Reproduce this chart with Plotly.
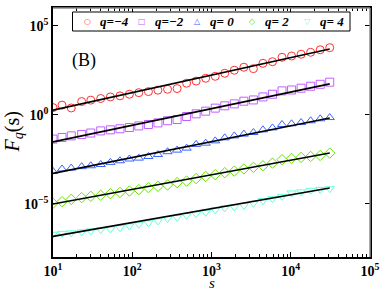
import numpy as np
import plotly.graph_objects as go

# scale s (log-spaced window sizes)
s = [10, 13, 17, 23, 30, 40, 53, 70, 92, 121, 160, 211, 279, 368, 485, 640, 845,
     1114, 1470, 1940, 2560, 3378, 4457, 5881, 7760, 10240, 13512, 17829, 23525, 31042]

# log10 of F_q(s)
log_F_qm4 = [0.40, 0.54, 0.38, 0.74, 0.82, 0.91, 1.00, 1.06, 1.15, 1.24, 1.30, 1.38, 1.43, 1.47, 1.77,
             1.89, 2.05, 2.16, 2.33, 2.50, 2.67, 2.59, 2.89, 2.98, 3.23, 3.30, 3.40, 3.51, 3.65, 3.77]
log_F_qm2 = [-1.37, -1.28, -1.19, -1.11, -1.03, -0.91, -0.85, -0.79, -0.72, -0.63, -0.55, -0.46, -0.34, -0.27, -0.10,
             0.05, 0.20, 0.37, 0.50, 0.61, 0.76, 0.83, 1.00, 1.15, 1.34, 1.39, 1.49, 1.60, 1.71, 1.83]
log_F_q0 = [-3.19, -3.05, -3.00, -2.92, -2.87, -2.80, -2.68, -2.59, -2.49, -2.44, -2.35, -2.24, -2.08, -1.99, -1.88,
            -1.67, -1.60, -1.47, -1.30, -1.19, -1.09, -1.00, -0.85, -0.74, -0.55, -0.51, -0.44, -0.34, -0.23, -0.16]
log_F_q2 = [-4.98, -4.89, -4.76, -4.66, -4.59, -4.53, -4.44, -4.37, -4.29, -4.21, -4.10, -4.03, -3.95, -3.82, -3.73,
            -3.59, -3.47, -3.37, -3.26, -3.17, -3.05, -2.96, -2.87, -2.72, -2.53, -2.46, -2.40, -2.35, -2.29, -2.16]
log_F_q4 = [-6.72, -6.67, -6.64, -6.59, -6.53, -6.47, -6.42, -6.35, -6.25, -6.16, -6.08, -5.97, -5.84, -5.77, -5.66,
            -5.57, -5.49, -5.35, -5.24, -5.19, -5.10, -4.98, -4.83, -4.72, -4.59, -4.40, -4.34, -4.25, -4.20, -4.16]

# power-law fits: slope and log10 F at s = 10
fit_slope = [0.985, 0.935, 0.891, 0.82, 0.78]
fit_log_at_10 = [0.255, -1.53, -3.30, -5.02, -6.84]

series_names = ["q=−4", "q=−2", "q= 0", "q= 2", "q= 4"]
series_logs = [log_F_qm4, log_F_qm2, log_F_q0, log_F_q2, log_F_q4]
symbols = ["circle-open", "square-open", "triangle-up-open", "diamond-open", "triangle-down-open"]
legend_glyphs = ["○", "□", "△", "◇", "▽"]
colors = ["#ff3030", "#c060ff", "#3c64ff", "#66e600", "#66ffd8"]

# tick labels
x_tickvals = [10, 100, 1000, 10000, 100000]
x_ticktext = ["<b>10<sup>1</sup></b>", "<b>10<sup>2</sup></b>", "<b>10<sup>3</sup></b>",
              "<b>10<sup>4</sup></b>", "<b>10<sup>5</sup></b>"]
y_tickvals = [1e-5, 1, 1e5]
y_ticktext = ["<b>10<sup>−5</sup></b>", "<b>10<sup>0</sup></b>", "<b>10<sup>5</sup></b>"]

FONT = "Liberation Serif"
W, H = 382, 292
ML, MR, MT, MB = 53, 12, 8, 35
PW, PH = W - ML - MR, H - MT - MB


def px_x(px):
    return (px - ML) / PW


def px_y(py):
    return (H - MB - py) / PH


fig = go.Figure()
for name, logs, sym, col in zip(series_names, series_logs, symbols, colors):
    fig.add_trace(go.Scatter(
        x=s, y=10 ** np.array(logs), mode="markers", name=name, showlegend=False,
        marker=dict(symbol=sym, size=8, color=col, line=dict(width=1, color=col)),
    ))

s_line = np.array([s[0], s[-1]], dtype=float)
for h, b in zip(fit_slope, fit_log_at_10):
    fig.add_trace(go.Scatter(
        x=s_line, y=10 ** (b + h * (np.log10(s_line) - 1)), mode="lines",
        line=dict(color="black", width=1.6), showlegend=False, hoverinfo="skip",
    ))

annotations = [
    dict(text="(B)", x=px_x(70), y=px_y(60), xref="paper", yref="paper",
         xanchor="left", yanchor="middle", showarrow=False,
         font=dict(family=FONT, size=18, color="black")),
    dict(text="<i>s</i>", x=0.5, y=px_y(283), xref="paper", yref="paper",
         xanchor="center", yanchor="middle", showarrow=False, borderpad=0,
         font=dict(family=FONT, size=15, color="black")),
    dict(text="<i>F<sub>q</sub></i>(s)", x=px_x(13), y=0.5, xref="paper", yref="paper",
         xanchor="center", yanchor="middle", showarrow=False, textangle=-90,
         font=dict(family=FONT, size=20, color="black")),
]

# legend drawn as a framed row of glyphs + labels
leg_left, leg_right, leg_top, leg_bottom = 72.5, 350, 12, 31
leg_first, leg_step, leg_mid = 87, 55, 21.5
for i, (name, glyph, col) in enumerate(zip(series_names, legend_glyphs, colors)):
    mx = leg_first + i * leg_step
    annotations.append(dict(
        text=glyph, x=px_x(mx), y=px_y(leg_mid), xref="paper", yref="paper",
        xanchor="center", yanchor="middle", showarrow=False,
        font=dict(family="DejaVu Sans", size=8, color=col)))
    annotations.append(dict(
        text="<b><i>" + name + "</i></b>", x=px_x(mx + 11), y=px_y(leg_mid), xref="paper", yref="paper",
        xanchor="left", yanchor="middle", showarrow=False,
        font=dict(family=FONT, size=13, color="black")))

fig.update_layout(
    width=W, height=H,
    margin=dict(l=ML, r=MR, t=MT, b=MB, autoexpand=False),
    paper_bgcolor="white", plot_bgcolor="white",
    font=dict(family=FONT, color="black", size=14),
    showlegend=False,
    annotations=annotations,
)

fig.update_xaxes(
    type="log", range=[1, 5], tickvals=x_tickvals, ticktext=x_ticktext,
    ticks="inside", ticklen=5, tickcolor="black", showline=True, linecolor="black", linewidth=1.5,
    mirror="ticks", showgrid=False, zeroline=False, automargin=False,
    minor=dict(ticks="inside", ticklen=3, dtick="D1", tickcolor="black", showgrid=False),
    tickfont=dict(family=FONT, size=14),
)
fig.update_yaxes(
    type="log", range=[-8, 6], tickvals=y_tickvals, ticktext=y_ticktext,
    ticks="inside", ticklen=5, tickcolor="black", showline=True, linecolor="black", linewidth=1.5,
    mirror="ticks", showgrid=False, zeroline=False, automargin=False,
    tickfont=dict(family=FONT, size=14),
)

# lighter top/right frame lines, as in the original
fig.add_shape(type="line", xref="paper", yref="paper", x0=0, x1=1, y0=1, y1=1,
              line=dict(color="#8c8c8c", width=1.5), layer="above")
fig.add_shape(type="line", xref="paper", yref="paper", x0=1, x1=1, y0=0, y1=1,
              line=dict(color="#8c8c8c", width=1.5), layer="above")
# legend frame
fig.add_shape(type="rect", xref="paper", yref="paper",
              x0=px_x(leg_left), x1=px_x(leg_right), y0=px_y(leg_bottom), y1=px_y(leg_top),
              line=dict(color="black", width=1), fillcolor="white", layer="above")

fig.write_html("out.html", config={"displayModeBar": False},
               post_script="document.body.style.margin='0';")
